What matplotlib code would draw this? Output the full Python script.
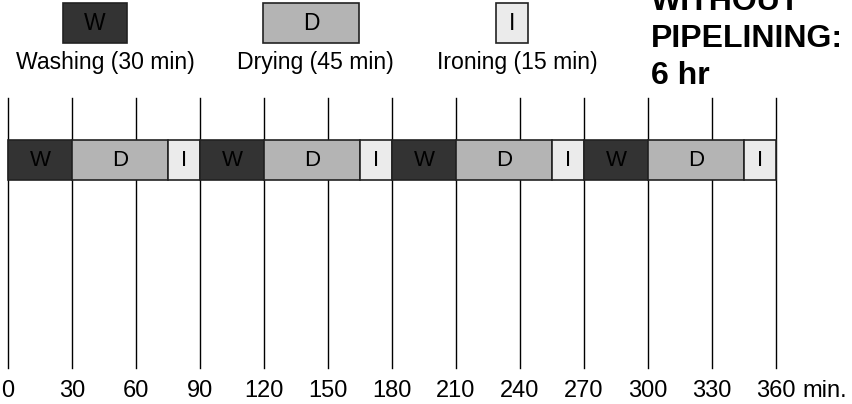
import matplotlib
matplotlib.use("Agg")
import matplotlib.pyplot as plt
from matplotlib.patches import Rectangle

# ---- data ----
stage_codes = ["W", "D", "I"]
stage_names = ["Washing", "Drying", "Ironing"]
stage_minutes = [30, 45, 15]
stage_colors = ["#333333", "#b4b4b4", "#ebebeb"]
n_loads = 4
tick_values = [0, 30, 60, 90, 120, 150, 180, 210, 240, 270, 300, 330, 360]
legend_x = [25.8, 119.5, 228.75]   # left edge (min) of each legend swatch
title_lines = ["WITHOUT", "PIPELINING:", "6 hr"]

plt.rcParams['font.family'] = ['Liberation Sans', 'DejaVu Sans']

W_PX, H_PX = 852, 404
fig = plt.figure(figsize=(W_PX / 100, H_PX / 100), dpi=100)
ax = fig.add_axes([0, 0, 1, 1])
scale = 768 / 360.0
x0 = -8 / scale
ax.set_xlim(x0, x0 + W_PX / scale)
ax.set_ylim(H_PX, 0)
ax.axis("off")

edge = "#222222"
def px2x(p):
    return (p - 8) / scale

# vertical grid lines
for t in tick_values:
    ax.plot([t, t], [98, 368], color="black", lw=1.0, zorder=1)
    ax.text(t, 391, str(t), ha="center", va="center", fontsize=17, color="black")
ax.annotate("min.", xy=(tick_values[-1], 391), xytext=(19, 0),
            textcoords="offset points", ha="left", va="center",
            fontsize=17, color="black")

# bars (sequential, no pipelining)
t = 0
for load in range(n_loads):
    for code, dur, col in zip(stage_codes, stage_minutes, stage_colors):
        ax.add_patch(Rectangle((t, 140), dur, 40, facecolor=col,
                               edgecolor=edge, lw=1.2, zorder=3))
        ax.text(t + dur / 2, 160, code, ha="center", va="center",
                fontsize=16, color="black", zorder=4)
        t += dur

# legend swatches
label_px = [105, 315, 517]
for code, name, dur, col, lx, lp in zip(stage_codes, stage_names, stage_minutes,
                                        stage_colors, legend_x, label_px):
    ax.add_patch(Rectangle((lx, 3), dur, 40, facecolor=col,
                           edgecolor=edge, lw=1.2, zorder=3))
    ax.text(lx + dur / 2, 23, code, ha="center", va="center",
            fontsize=16.5, color="black", zorder=4)
    ax.text(px2x(lp), 63, f"{name} ({dur} min)", ha="center", va="center",
            fontsize=16.6, color="black")

# title text
tx = px2x(651)
for i, line in enumerate(title_lines):
    ax.text(tx, 47 + (i - 1) * 37, line, ha="left", va="baseline",
            fontsize=23, fontweight="bold", color="black")

fig.savefig("out.png", dpi=100)
